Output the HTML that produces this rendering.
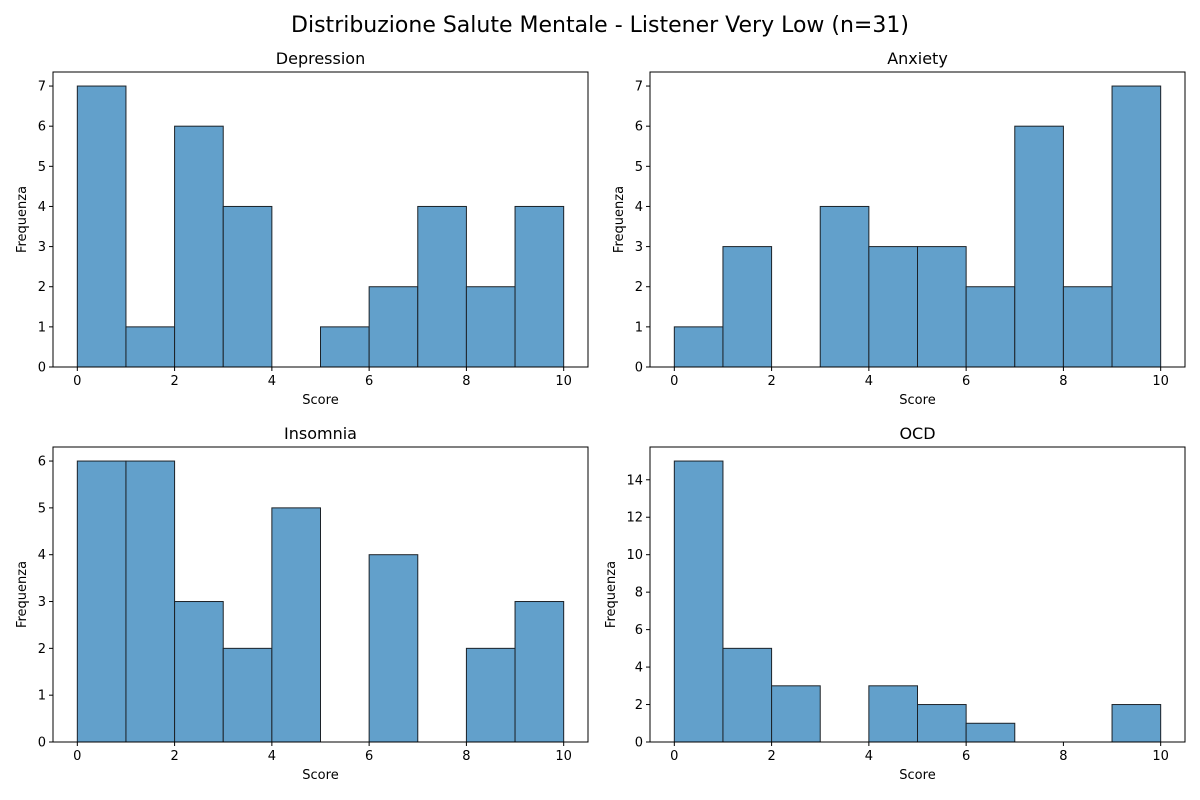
<!DOCTYPE html>
<html><head><meta charset="utf-8"><style>
body{margin:0;background:#fff;}
svg{display:block;font-family:"DejaVu Sans","Liberation Sans",sans-serif;}
</style></head><body>
<svg id="c" width="1200" height="800" xmlns="http://www.w3.org/2000/svg">
<text x="600" y="32" font-size="22" text-anchor="middle">Distribuzione Salute Mentale - Listener Very Low (n=31)</text>
</svg>
<script>
const binEdges = [0,1,2,3,4,5,6,7,8,9,10];
const xTicks = [0,2,4,6,8,10];
const depressionCounts = [7,1,6,4,0,1,2,4,2,4];
const anxietyCounts = [1,3,0,4,3,3,2,6,2,7];
const insomniaCounts = [6,6,3,2,5,0,4,0,2,3];
const ocdCounts = [15,5,3,0,3,2,1,0,0,2];
const panelTitles = ["Depression","Anxiety","Insomnia","OCD"];
const depressionTicks = [0,1,2,3,4,5,6,7];
const anxietyTicks = [0,1,2,3,4,5,6,7];
const insomniaTicks = [0,1,2,3,4,5,6];
const ocdTicks = [0,2,4,6,8,10,12,14];

const NS="http://www.w3.org/2000/svg";
const svg=document.getElementById('c');
function mk(tag,attrs,parent){const e=document.createElementNS(NS,tag);for(const k in attrs)e.setAttribute(k,attrs[k]);(parent||svg).appendChild(e);return e;}

const panels=[
 {x0:53,x1:588,y0:72,y1:367,counts:depressionCounts,ticks:depressionTicks,title:panelTitles[0],lx:22},
 {x0:650,x1:1185,y0:72,y1:367,counts:anxietyCounts,ticks:anxietyTicks,title:panelTitles[1],lx:619},
 {x0:53,x1:588,y0:447,y1:742,counts:insomniaCounts,ticks:insomniaTicks,title:panelTitles[2],lx:22},
 {x0:650,x1:1185,y0:447,y1:742,counts:ocdCounts,ticks:ocdTicks,title:panelTitles[3],lx:611}
];
panels.forEach((p,i)=>{
  const g=mk('g',{});
  
  
  const maxC=Math.max(...p.counts);
  const yMax=maxC*1.05;
  const xs=v=>p.x0+(v+0.5)/11*(p.x1-p.x0);
  const ys=v=>p.y1-v/yMax*(p.y1-p.y0);
  p.counts.forEach((c,j)=>{
    if(c<=0)return;
    const r=mk('rect',{x:xs(binEdges[j]),y:ys(c),width:xs(binEdges[j+1])-xs(binEdges[j]),height:ys(0)-ys(c),fill:'#62a0cb',stroke:'#1c2228','stroke-width':1},g);
    
    
  });
  mk('rect',{x:p.x0,y:p.y0,width:p.x1-p.x0,height:p.y1-p.y0,fill:'none',stroke:'#000','stroke-width':1},g);
  xTicks.forEach(t=>{
    const x=xs(t);
    mk('line',{x1:x,x2:x,y1:p.y1,y2:p.y1+4,stroke:'#000'},g);
    const tx=mk('text',{x:x,y:p.y1+18,'font-size':13,'text-anchor':'middle'},g);tx.textContent=t;
    
    
  });
  p.ticks.forEach(t=>{
    const y=ys(t);
    mk('line',{x1:p.x0-4,x2:p.x0,y1:y,y2:y,stroke:'#000'},g);
    const tx=mk('text',{x:p.x0-7,y:y+4.5,'font-size':13,'text-anchor':'end'},g);tx.textContent=t;
    
    
  });
  const tt=mk('text',{x:(p.x0+p.x1)/2,y:p.y0-8,'font-size':16,'text-anchor':'middle'},g);tt.textContent=p.title;
  
  
  const xl=mk('text',{x:(p.x0+p.x1)/2,y:p.y1+37,'font-size':13,'text-anchor':'middle'},g);xl.textContent='Score';
  
  
  const cy=(p.y0+p.y1)/2;
  const yl=mk('text',{x:p.lx+4,y:cy,'font-size':13,'text-anchor':'middle',transform:`rotate(-90 ${p.lx+4} ${cy})`},g);yl.textContent='Frequenza';
  
  
});
</script>
</body></html>
